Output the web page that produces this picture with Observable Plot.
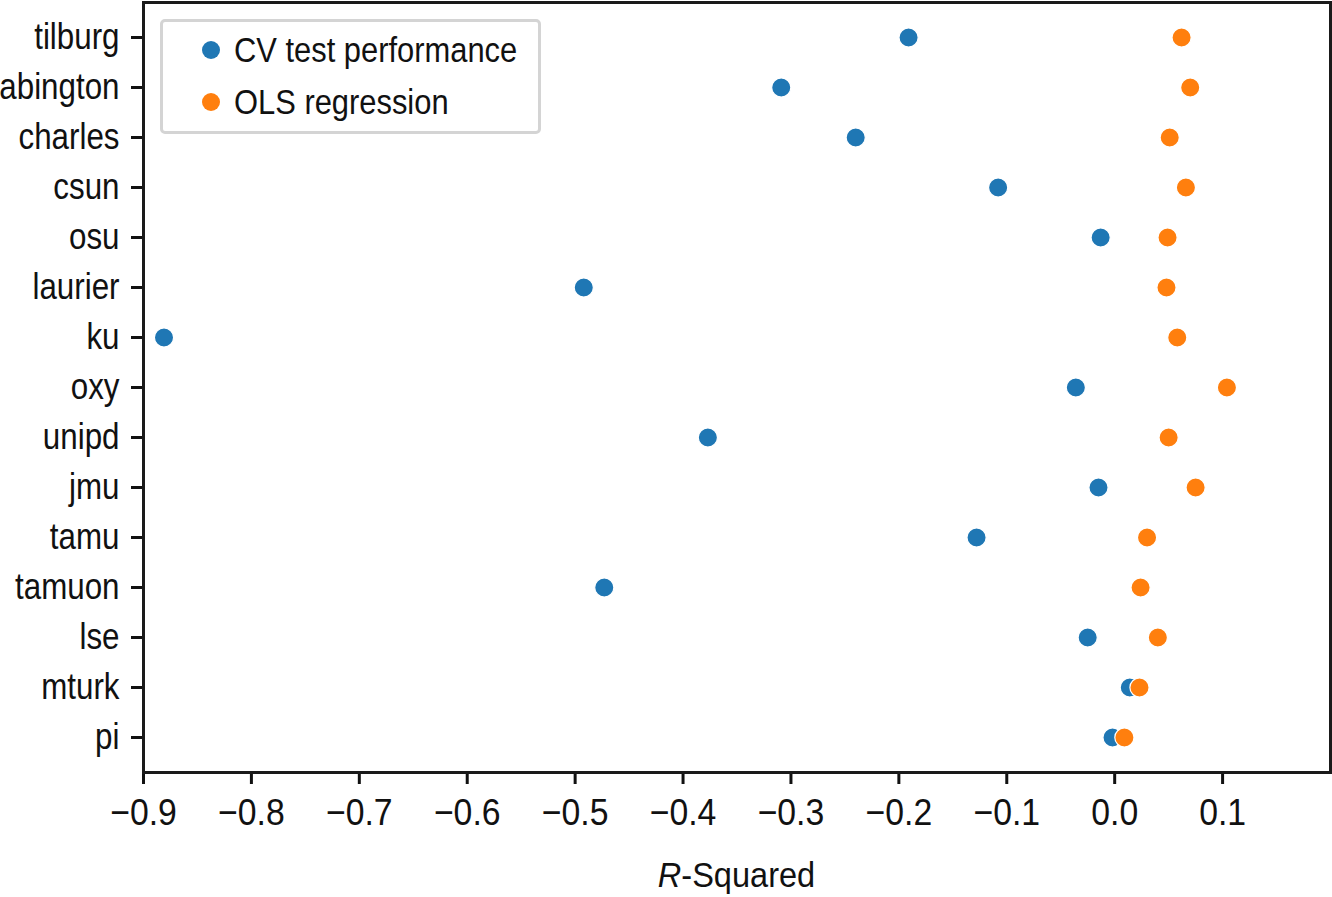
<!DOCTYPE html>
<html>
<head>
<meta charset="utf-8">
<script src="https://cdn.jsdelivr.net/npm/d3@7"></script>
<script src="https://cdn.jsdelivr.net/npm/@observablehq/plot@0.6"></script>
<style>
  html, body { margin: 0; padding: 0; background: #fff; }
  #wrap { position: relative; width: 1332px; height: 897px; font-family: "Liberation Sans", Arial, sans-serif; }
  #legend { position: absolute; left: 160px; top: 19px; width: 375px; height: 109px; border: 3px solid #d4d4d4; border-radius: 5px; background: rgba(255,255,255,0.85); }
  .item { position: absolute; left: 0; width: 100%; height: 50px; font-size: 35.5px; color: #111; }
  .sw { position: absolute; width: 18px; height: 18px; border-radius: 50%; left: 39px; top: 16px; }
  .lab { position: absolute; left: 71px; top: 4px; line-height: 42px; white-space: nowrap; transform: scaleX(0.87); transform-origin: 0 50%; }
</style>
</head>
<body>
<div id="wrap"></div>
<script>
const sites = ["tilburg","abington","charles","csun","osu","laurier","ku","oxy","unipd","jmu","tamu","tamuon","lse","mturk","pi"];
const cvTest = [-0.191,-0.309,-0.240,-0.108,-0.013,-0.492,-0.881,-0.036,-0.377,-0.015,-0.128,-0.473,-0.025,0.014,-0.002];
const olsReg = [0.062,0.070,0.051,0.066,0.049,0.048,0.058,0.104,0.050,0.075,0.030,0.024,0.040,0.023,0.009];
const seriesNames = ["CV test performance","OLS regression"];
const seriesColors = ["#1f77b4","#ff7f0e"];
const xTicks = [-0.9,-0.8,-0.7,-0.6,-0.5,-0.4,-0.3,-0.2,-0.1,0.0,0.1];
const axisLabel = ["R","-Squared"];

const data = [];
sites.forEach((s,i) => data.push({site: s, value: cvTest[i], series: seriesNames[0]}));
sites.forEach((s,i) => data.push({site: s, value: olsReg[i], series: seriesNames[1]}));

const chart = Plot.plot({
  width: 1332,
  height: 897,
  marginLeft: 143,
  marginRight: 2,
  marginTop: 2,
  marginBottom: 125,
  style: {fontFamily: '"Liberation Sans", Arial, sans-serif', fontSize: "36px", color: "#111", background: "#fff"},
  x: {domain: [-0.9, 0.2]},
  y: {type: "point", domain: sites, padding: 0.7},
  color: {domain: seriesNames, range: seriesColors},
  marks: [
    Plot.axisX({ticks: xTicks, tickFormat: d3.format(".1f"), tickSize: 12, tickPadding: 14, strokeWidth: 3, label: null, fontSize: 37.5}),
    Plot.axisY({tickSize: 12, tickPadding: 12, strokeWidth: 3, label: null, fontSize: 36}),
    Plot.dot(data, {x: "value", y: "site", fill: "series", r: 9.6, stroke: "white", strokeWidth: 1.2}),
    Plot.frame({stroke: "#1a1a1a", strokeWidth: 3})
  ]
});

const wrap = document.getElementById("wrap");
wrap.appendChild(chart);

// condense the tick label glyphs horizontally (reference uses a condensed face)
function condense(sel, s) {
  sel.each(function() {
    const w = this.getComputedTextLength();
    if (w > 0) {
      this.setAttribute("textLength", (w * s).toFixed(2));
      this.setAttribute("lengthAdjust", "spacingAndGlyphs");
    }
  });
}
const svg = d3.select(chart);
condense(svg.selectAll('g[aria-label="x-axis tick label"] text'), 0.9);
condense(svg.selectAll('g[aria-label="y-axis tick label"] text'), 0.87);

const lbl = svg.append("text")
  .attr("transform", `translate(${143 + (1330 - 143) / 2},887) scale(0.93,1)`)
  .attr("text-anchor", "middle")
  .attr("font-size", 35)
  .attr("fill", "#111");
lbl.append("tspan").attr("font-style", "italic").text(axisLabel[0]);
lbl.append("tspan").text(axisLabel[1]);

const legend = document.createElement("div");
legend.id = "legend";
seriesNames.forEach((name, i) => {
  const it = document.createElement("div");
  it.className = "item";
  it.style.top = (3 + i * 52) + "px";
  const sw = document.createElement("span");
  sw.className = "sw";
  sw.style.background = seriesColors[i];
  const lab = document.createElement("span");
  lab.className = "lab";
  lab.textContent = name;
  it.appendChild(sw);
  it.appendChild(lab);
  legend.appendChild(it);
});
wrap.appendChild(legend);
</script>
</body>
</html>
